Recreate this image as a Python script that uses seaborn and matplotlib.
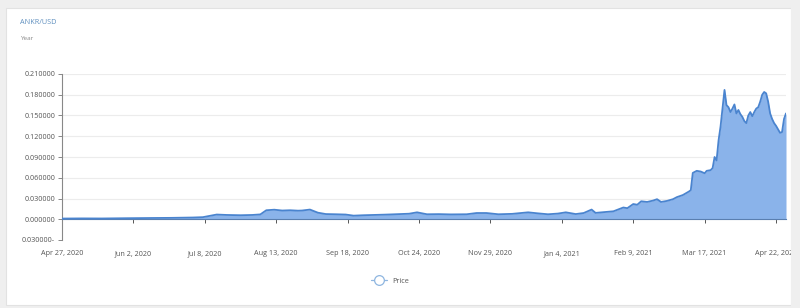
import matplotlib
matplotlib.use("Agg")
import matplotlib.pyplot as plt
from matplotlib.patches import Rectangle
from matplotlib.lines import Line2D
import seaborn as sns
import pandas as pd

# ---- data ----
start_date = "2020-04-27"
day_offsets = [0, 10, 20, 33, 45, 55, 66, 71, 78, 83, 90, 96, 100, 103, 107, 111, 115, 119,
               121, 125, 129, 133, 138, 143, 147, 152, 157, 162, 166, 175, 179, 184, 190, 196,
               204, 209, 214, 220, 227, 235, 240, 245, 250, 254, 259, 263, 267, 269, 274, 278,
               283, 285, 288, 290, 292, 295, 298, 300, 302, 305, 308, 310, 313, 316, 317, 318,
               320, 322, 324, 325, 327, 328, 329, 330, 331, 332, 334, 335, 336, 337, 338, 339,
               340, 341, 342, 343, 344, 345, 346, 347, 348, 349, 350, 351, 352, 353, 354, 355,
               356, 357, 358, 359, 360, 361, 362, 363, 364, 365]
prices = [0.0010, 0.0012, 0.0011, 0.0015, 0.0018, 0.0020, 0.0025, 0.0030, 0.0068, 0.0062,
          0.0058, 0.0062, 0.0070, 0.0130, 0.0138, 0.0126, 0.0130, 0.0124,
          0.0126, 0.0140, 0.0095, 0.0075, 0.0072, 0.0068, 0.0052, 0.0058, 0.0062, 0.0066,
          0.0070, 0.0080, 0.0100, 0.0072, 0.0074, 0.0070,
          0.0072, 0.0090, 0.0090, 0.0072, 0.0078, 0.0100, 0.0085, 0.0072, 0.0082, 0.0100,
          0.0075, 0.0090, 0.0140, 0.0092, 0.0105, 0.0115,
          0.0170, 0.0160, 0.0220, 0.0210, 0.0260, 0.0250, 0.0270, 0.0290, 0.0250, 0.0265,
          0.0290, 0.0320, 0.0350, 0.0400, 0.0420, 0.0670,
          0.0700, 0.0690, 0.0665, 0.0700, 0.0710, 0.0740, 0.0900, 0.0850, 0.1140, 0.1340,
          0.1870, 0.1650, 0.1620, 0.1550, 0.1600, 0.1660,
          0.1530, 0.1580, 0.1520, 0.1480, 0.1420, 0.1390, 0.1500, 0.1550, 0.1490, 0.1550,
          0.1600, 0.1620, 0.1700, 0.1800, 0.1840, 0.1820,
          0.1700, 0.1530, 0.1450, 0.1390, 0.1350, 0.1300, 0.1250, 0.1260, 0.1450, 0.1530]

x_tick_dates = ["2020-04-27", "2020-06-02", "2020-07-08", "2020-08-13", "2020-09-18",
                "2020-10-24", "2020-11-29", "2021-01-04", "2021-02-09", "2021-03-17",
                "2021-04-22"]
x_tick_labels = ["Apr 27, 2020", "Jun 2, 2020", "Jul 8, 2020", "Aug 13, 2020",
                 "Sep 18, 2020", "Oct 24, 2020", "Nov 29, 2020", "Jan 4, 2021",
                 "Feb 9, 2021", "Mar 17, 2021", "Apr 22, 2021"]
y_ticks = [-0.03, 0.0, 0.03, 0.06, 0.09, 0.12, 0.15, 0.18, 0.21]
y_tick_labels = ["0.030000-", "0.000000", "0.030000", "0.060000", "0.090000",
                 "0.120000", "0.150000", "0.180000", "0.210000"]

title_text = "ANKR/USD"
subtitle_text = "Year"
legend_label = "Price"

dates = pd.to_datetime(start_date) + pd.to_timedelta(day_offsets, unit="D")
df = pd.DataFrame({"date": dates, "price": prices})

# ---- style ----
sns.set_style("white")
plt.rcParams["font.family"] = ["Open Sans", "DejaVu Sans"]

W, H = 800, 308
fig = plt.figure(figsize=(W / 100, H / 100), dpi=100)
fig.patch.set_facecolor("#efefef")
# white card behind everything
card = Rectangle((6 / W, 1 - 305 / H), (791 - 6) / W, (305 - 8) / H,
                 transform=fig.transFigure, facecolor="white",
                 edgecolor="#e2e2e2", lw=0.8, zorder=-10)
fig.add_artist(card)

ax = fig.add_axes([62 / W, 1 - 240 / H, (786 - 62) / W, (240 - 74) / H])
ax.set_zorder(1)
ax.set_facecolor("none")
ax.patch.set_alpha(0)

line_col = "#4a84cf"
fill_col = "#8ab3ea"
ax.fill_between(df["date"], 0, df["price"], color=fill_col, lw=0, zorder=2)
sns.lineplot(data=df, x="date", y="price", ax=ax, color=line_col, lw=1.3, zorder=3,
             legend=False)

ax.set_ylim(-0.03, 0.21)
ax.set_xlim(pd.to_datetime(start_date), pd.to_datetime(start_date) + pd.Timedelta(days=365))

ax.set_yticks(y_ticks)
ax.set_yticklabels(y_tick_labels)
ax.set_xticks(pd.to_datetime(x_tick_dates))
ax.set_xticklabels(x_tick_labels)

for yv in y_ticks[1:]:
    ax.axhline(yv, color="#ececec", lw=0.8, zorder=1)

for s in ["top", "right"]:
    ax.spines[s].set_visible(False)
ax.spines["bottom"].set_position(("data", 0))
ax.spines["bottom"].set_color("#5a7fb0")
ax.spines["bottom"].set_linewidth(0.8)
ax.spines["left"].set_color("#888888")
ax.spines["left"].set_linewidth(0.8)

ax.tick_params(axis="y", length=3, width=0.7, color="#888888", labelsize=5.2,
               labelcolor="#555555", pad=2, left=True)
ax.tick_params(axis="x", length=3, width=0.7, color="#555555", labelsize=5.2,
               labelcolor="#555555", pad=19, bottom=True)
ax.set_xlabel("")
ax.set_ylabel("")

# titles
fig.text(20 / W, 1 - 22 / H, title_text, fontsize=5.2, color="#5e8fbf", va="center", ha="left")
fig.text(20 / W, 1 - 38 / H, subtitle_text, fontsize=4.6, color="#888888", va="center", ha="left")

# legend
handle = Line2D([0], [0], color="#8fb6e0", lw=0.9, marker="o", markersize=7,
                markerfacecolor="white", markeredgecolor="#8fb6e0", markeredgewidth=0.9)
fig.legend([handle], [legend_label], loc="center", bbox_to_anchor=(390 / W, 1 - 281 / H),
           frameon=False, fontsize=5.2, handlelength=2.2, labelcolor="#555555")

# right edge strip covering the clipped tick label
strip = Rectangle((791 / W, 0), 1 - 791 / W, 1, transform=fig.transFigure,
                  facecolor="#efefef", edgecolor="none", zorder=10)
fig.add_artist(strip)

fig.savefig("out.png", dpi=100)
